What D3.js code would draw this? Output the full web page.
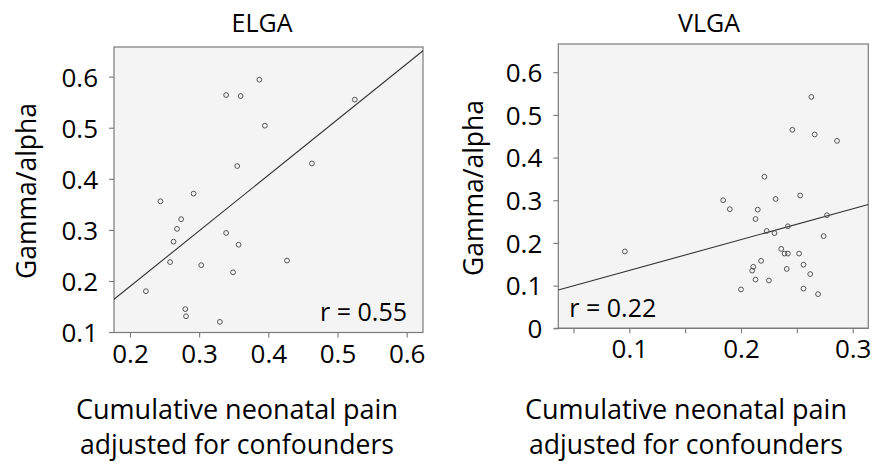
<!DOCTYPE html>
<html>
<head>
<meta charset="utf-8">
<script src="https://cdn.jsdelivr.net/npm/d3@7"></script>
<style>
  body { margin: 0; background: #fff; }
  text { font-family: 'Open Sans', sans-serif; fill: #000; }
</style>
</head>
<body>
<script>
// ELGA points (cumulative pain adjusted, gamma/alpha)
var elgaX = [0.223, 0.244, 0.274, 0.268, 0.263, 0.258, 0.280, 0.281, 0.292, 0.303, 0.330,
    0.339, 0.360, 0.339, 0.355, 0.357, 0.349, 0.387, 0.395, 0.427, 0.463, 0.525]
var elgaY = [0.180, 0.356, 0.321, 0.302, 0.277, 0.237, 0.145, 0.131, 0.371, 0.231, 0.120,
    0.564, 0.562, 0.294, 0.425, 0.271, 0.217, 0.594, 0.504, 0.240, 0.430, 0.555]
var elgaFit = [-0.0285, 1.089]   // intercept, slope
var elgaR = 'r = 0.55'

// VLGA points
var vlgaX = [0.096, 0.184, 0.190, 0.200, 0.210, 0.211, 0.213, 0.213, 0.215, 0.218, 0.221,
    0.223, 0.225, 0.230, 0.231, 0.236, 0.239, 0.242, 0.241, 0.242, 0.246, 0.252,
    0.253, 0.256, 0.256, 0.262, 0.263, 0.266, 0.269, 0.274, 0.277, 0.286]
var vlgaY = [0.180, 0.300, 0.279, 0.091, 0.135, 0.144, 0.114, 0.256, 0.278, 0.158, 0.355,
    0.228, 0.112, 0.223, 0.303, 0.186, 0.175, 0.175, 0.139, 0.239, 0.465, 0.175,
    0.311, 0.149, 0.093, 0.127, 0.542, 0.454, 0.080, 0.216, 0.265, 0.439]
var vlgaFit = [0.0634, 0.7216]
var vlgaR = 'r = 0.22'

var elgaXTicks = [0.2, 0.3, 0.4, 0.5, 0.6]
var elgaYTicks = [0.1, 0.2, 0.3, 0.4, 0.5, 0.6]
var vlgaXTicks = [0.05, 0.1, 0.15, 0.2, 0.25, 0.3]
var vlgaXLabels = [0.1, 0.2, 0.3]
var vlgaYTicks = [0, 0.1, 0.2, 0.3, 0.4, 0.5, 0.6]

var yTitle = 'Gamma/alpha'
var xTitle = ['Cumulative neonatal pain', 'adjusted for confounders']

var svg = d3.select('body').append('svg')
    .attr('width', 875)
    .attr('height', 464)

var panels = [
    { title: 'ELGA', xs: elgaX, ys: elgaY, fit: elgaFit, r: elgaR,
      left: 114, right: 423, top: 47, bottom: 332.5,
      xdom: [0.1769, 0.6236], ydom: [0.0992, 0.658],
      xticks: elgaXTicks, xlabels: elgaXTicks, yticks: elgaYTicks,
      titleX: 262, yTitleX: 36, yTitleY: 191, xTitleX: 237, rLeft: false },
    { title: 'VLGA', xs: vlgaX, ys: vlgaY, fit: vlgaFit, r: vlgaR,
      left: 558.3, right: 868.3, top: 44, bottom: 328.3,
      xdom: [0.0364, 0.314], ydom: [0, 0.666],
      xticks: vlgaXTicks, xlabels: vlgaXLabels, yticks: vlgaYTicks,
      titleX: 709, yTitleX: 483, yTitleY: 188, xTitleX: 686, rLeft: true }
]

panels.forEach(p => {
    var x = d3.scaleLinear().domain(p.xdom).range([p.left, p.right])
    var y = d3.scaleLinear().domain(p.ydom).range([p.bottom, p.top])
    var g = svg.append('g')
    var clipId = 'clip-' + p.title

    g.append('clipPath').attr('id', clipId)
        .append('rect')
        .attr('x', p.left).attr('y', p.top)
        .attr('width', p.right - p.left).attr('height', p.bottom - p.top)

    // plot area
    g.append('rect')
        .attr('x', p.left).attr('y', p.top)
        .attr('width', p.right - p.left).attr('height', p.bottom - p.top)
        .attr('fill', '#f4f4f4')
        .attr('stroke', '#7a7a7a')
        .attr('stroke-width', 1.2)

    // axes
    var xa = g.append('g')
        .attr('transform', 'translate(0,' + p.bottom + ')')
        .call(d3.axisBottom(x).tickValues(p.xticks).tickSize(5).tickSizeOuter(0)
            .tickFormat(d => p.xlabels.some(v => Math.abs(v - d) < 1e-9) ? d3.format('.1f')(d) : ''))
    var ya = g.append('g')
        .attr('transform', 'translate(' + p.left + ',0)')
        .call(d3.axisLeft(y).tickValues(p.yticks).tickSize(5).tickSizeOuter(0)
            .tickFormat(d => d === 0 ? '0' : d3.format('.1f')(d)))
    ;[xa, ya].forEach(a => {
        a.select('.domain').remove()
        a.selectAll('line').attr('stroke', '#7a7a7a').attr('stroke-width', 1.1)
        a.selectAll('text').style('font-size', '26px').attr('fill', '#000')
    })
    xa.selectAll('text').attr('dy', null).attr('y', 30)
    ya.selectAll('text').attr('x', -16).attr('dy', '0.36em')

    // axis line runs a little past the corner
    g.append('line')
        .attr('x1', p.left - 4).attr('x2', p.right)
        .attr('y1', p.bottom).attr('y2', p.bottom)
        .attr('stroke', '#7a7a7a').attr('stroke-width', 1.2)

    // fit line
    var line = d3.line().x(d => x(d)).y(d => y(p.fit[0] + p.fit[1] * d))
    g.append('path')
        .datum(p.xdom)
        .attr('d', line)
        .attr('clip-path', 'url(#' + clipId + ')')
        .attr('fill', 'none')
        .attr('stroke', '#333')
        .attr('stroke-width', 1.1)

    // points
    g.selectAll('circle.pt')
        .data(p.xs.map((v, i) => [v, p.ys[i]]))
        .enter().append('circle')
        .attr('class', 'pt')
        .attr('cx', d => x(d[0]))
        .attr('cy', d => y(d[1]))
        .attr('r', 2.4)
        .attr('fill', 'none')
        .attr('stroke', '#555')
        .attr('stroke-width', 1)

    // r label
    g.append('text')
        .attr('x', p.rLeft ? p.left + 11 : p.right - 16)
        .attr('y', p.bottom - 11.5)
        .attr('text-anchor', p.rLeft ? 'start' : 'end')
        .style('font-size', '25px')
        .text(p.r)

    // titles
    g.append('text')
        .attr('x', p.titleX).attr('y', 32)
        .attr('text-anchor', 'middle')
        .style('font-size', '25px')
        .text(p.title)

    g.append('text')
        .attr('transform', 'translate(' + p.yTitleX + ',' + p.yTitleY + ') rotate(-90)')
        .attr('text-anchor', 'middle')
        .style('font-size', '26.5px')
        .text(yTitle)

    xTitle.forEach((t, i) => {
        g.append('text')
            .attr('x', p.xTitleX).attr('y', 419 + i * 35)
            .attr('text-anchor', 'middle')
            .attr('textLength', i === 0 ? 322 : 314)
            .attr('lengthAdjust', 'spacingAndGlyphs')
            .style('font-size', '28px')
            .text(t)
    })
})
</script>
</body>
</html>
